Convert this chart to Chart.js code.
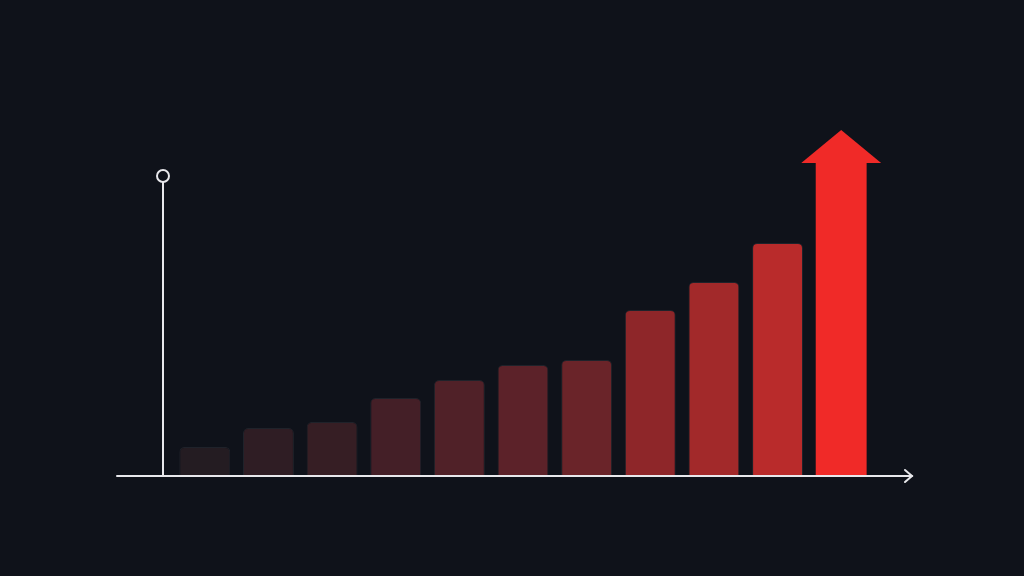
<!DOCTYPE html>
<html>
<head>
<meta charset="utf-8">
<script src="https://cdn.jsdelivr.net/npm/chart.js@4"></script>
<style>
  html, body { margin: 0; padding: 0; background: #0f121a; }
  canvas { display: block; }
</style>
</head>
<body>
<canvas id="chart" width="1024" height="576"></canvas>
<script>
// data
const labels = ['1', '2', '3', '4', '5', '6', '7', '8', '9', '10', '11'];
const values = [9.7, 16, 18, 26, 32, 37, 38.7, 55.3, 64.7, 77.7, 104.3];
const barColors = ['#241c22', '#2f1d24', '#361e24', '#441f27', '#502128', '#5c2229',
                   '#6a2429', '#8e2629', '#a2292a', '#b92b2b', '#f02a28'];
const arrowTip = 115.3;   // tip of the arrow head on the last bar
const yAxisTop = 100;     // where the y axis ends (circle)

const axisColor = '#e8e8ec';

// arrow head on top of the last bar + hand drawn axes
const decorPlugin = {
    id: 'decor',
    afterDatasetsDraw(chart) {
        const ctx = chart.ctx;
        const area = chart.chartArea;
        const y = chart.scales.y;
        const meta = chart.getDatasetMeta(0);
        const last = meta.data[meta.data.length - 1];

        // arrow head
        const half = last.width / 2 + 14.5;
        ctx.save();
        ctx.fillStyle = barColors[barColors.length - 1];
        ctx.beginPath();
        ctx.moveTo(last.x - half, last.y);
        ctx.lineTo(last.x, y.getPixelForValue(arrowTip));
        ctx.lineTo(last.x + half, last.y);
        ctx.closePath();
        ctx.fill();

        const base = y.getPixelForValue(0);
        const yx = area.left - 10;
        const topY = y.getPixelForValue(yAxisTop);

        ctx.strokeStyle = axisColor;
        ctx.lineWidth = 2;
        ctx.lineCap = 'round';

        // y axis with circle
        ctx.beginPath();
        ctx.moveTo(yx, base);
        ctx.lineTo(yx, topY + 6);
        ctx.stroke();
        ctx.beginPath();
        ctx.arc(yx, topY, 6, 0, Math.PI * 2);
        ctx.stroke();

        // x axis with arrow
        const xEnd = area.right + 39;
        ctx.beginPath();
        ctx.moveTo(area.left - 56, base);
        ctx.lineTo(xEnd, base);
        ctx.stroke();
        ctx.beginPath();
        ctx.moveTo(xEnd - 7, base - 6);
        ctx.lineTo(xEnd, base);
        ctx.lineTo(xEnd - 7, base + 6);
        ctx.stroke();
        ctx.restore();
    }
};

new Chart(document.getElementById('chart'), {
    type: 'bar',
    data: {
        labels: labels,
        datasets: [{
            data: values,
            backgroundColor: barColors,
            borderColor: values.map((v, i) => i === values.length - 1 ? barColors[i] : 'rgba(255,255,255,0.07)'),
            borderWidth: values.map((v, i) => i === values.length - 1 ? 0 : 1),
            borderSkipped: 'bottom',
            borderRadius: values.map((v, i) => i === values.length - 1 ? 0 : { topLeft: 5, topRight: 5 }),
            categoryPercentage: 1,
            barPercentage: 0.8
        }]
    },
    options: {
        responsive: false,
        animation: false,
        layout: { padding: { left: 173, right: 151, top: 116, bottom: 100 } },
        scales: {
            x: { display: false, offset: true },
            y: { display: false, min: 0, max: 120 }
        },
        plugins: {
            legend: { display: false },
            tooltip: { enabled: false }
        }
    },
    plugins: [decorPlugin]
});
</script>
</body>
</html>
